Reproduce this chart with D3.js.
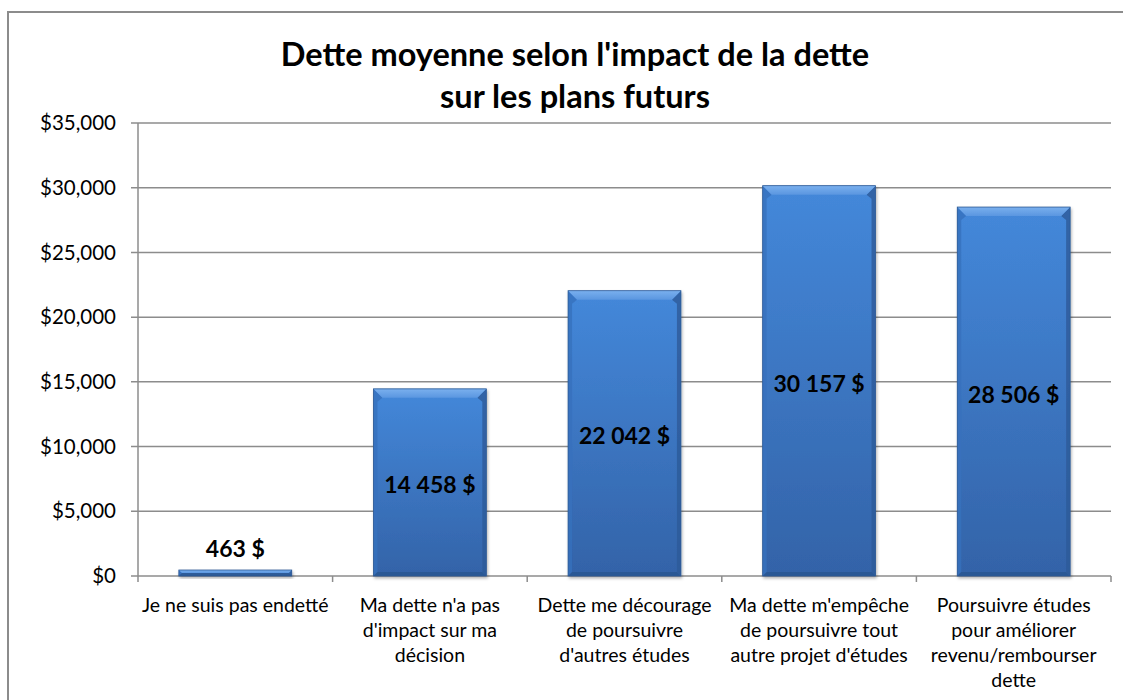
<!DOCTYPE html>
<html>
<head>
<meta charset="utf-8">
<script src="https://cdn.jsdelivr.net/npm/d3@7"></script>
<style>
  body { margin: 0; background: #fff; }
  svg text { font-family: Lato, "Open Sans", sans-serif; }
</style>
</head>
<body>
<div id="main"></div>
<script>
var categories = [
    ["Je ne suis pas endetté"],
    ["Ma dette n'a pas", "d'impact sur ma", "décision"],
    ["Dette me décourage", "de poursuivre", "d'autres études"],
    ["Ma dette m'empêche", "de poursuivre tout", "autre projet d'études"],
    ["Poursuivre études", "pour améliorer", "revenu/rembourser", "dette"]
];
var values = [463, 14458, 22042, 30157, 28506];
var valueLabels = ["463 $", "14 458 $", "22 042 $", "30 157 $", "28 506 $"];
var yTicks = [0, 5000, 10000, 15000, 20000, 25000, 30000, 35000];
var titleLines = ["Dette moyenne selon l'impact de la dette", "sur les plans futurs"];

var width = 1123, height = 700;
var plot = {left: 138, right: 1111, top: 123, bottom: 576};

var svg = d3.select('#main')
    .append('svg')
    .attr("width", width)
    .attr("height", height);

// chart frame
svg.append("rect")
    .attr("x", 8).attr("y", 12)
    .attr("width", 1130).attr("height", 720)
    .attr("fill", "#fff")
    .attr("stroke", "#8c8c8c")
    .attr("stroke-width", 2);

var defs = svg.append("defs");
var grad = defs.append("linearGradient").attr("id", "barGrad")
    .attr("x1", "0").attr("x2", "0").attr("y1", "0").attr("y2", "1");
grad.append("stop").attr("offset", "0%").attr("stop-color", "#4488da");
grad.append("stop").attr("offset", "100%").attr("stop-color", "#3363a8");

var topGrad = defs.append("linearGradient").attr("id", "topGrad")
    .attr("x1", "0").attr("x2", "0").attr("y1", "0").attr("y2", "1");
topGrad.append("stop").attr("offset", "0%").attr("stop-color", "#7ab0ee");
topGrad.append("stop").attr("offset", "100%").attr("stop-color", "#5a96e0");

var shadow = defs.append("filter").attr("id", "shadow")
    .attr("x", "-10%").attr("y", "-10%").attr("width", "130%").attr("height", "130%");
shadow.append("feDropShadow").attr("dx", 1).attr("dy", 2).attr("stdDeviation", 1.5)
    .attr("flood-color", "#000").attr("flood-opacity", 0.3);

var x = d3.scaleBand()
    .domain(d3.range(categories.length))
    .range([plot.left, plot.right])
    .paddingInner(0.42)
    .paddingOuter(0.21);

var y = d3.scaleLinear()
    .domain([0, 35000])
    .range([plot.bottom, plot.top]);

// gridlines
svg.append("g")
    .selectAll("line")
    .data(yTicks)
    .enter().append("line")
    .attr("x1", plot.left - 7)
    .attr("x2", plot.right)
    .attr("y1", function(d) { return y(d); })
    .attr("y2", function(d) { return y(d); })
    .attr("stroke", "#8c8c8c")
    .attr("stroke-width", 1.5);

// y axis line
svg.append("line")
    .attr("x1", plot.left).attr("x2", plot.left)
    .attr("y1", plot.top).attr("y2", plot.bottom)
    .attr("stroke", "#8c8c8c").attr("stroke-width", 1.5);

// y tick labels
svg.append("g")
    .selectAll("text")
    .data(yTicks)
    .enter().append("text")
    .attr("x", plot.left - 22)
    .attr("y", function(d) { return y(d); })
    .attr("dy", "0.35em")
    .attr("text-anchor", "end")
    .attr("font-size", 20.5)
    .attr("fill", "#000")
    .text(function(d) { return "$" + d3.format(",")(d); });

// x category ticks
var boundaries = d3.range(categories.length + 1).map(function(i) {
    return plot.left + i * x.step();
});
svg.append("g")
    .selectAll("line")
    .data(boundaries)
    .enter().append("line")
    .attr("x1", function(d) { return d; })
    .attr("x2", function(d) { return d; })
    .attr("y1", plot.bottom)
    .attr("y2", plot.bottom + 6)
    .attr("stroke", "#8c8c8c").attr("stroke-width", 1.5);

// bars
var bars = svg.append("g")
    .selectAll("g")
    .data(values)
    .enter().append("g")
    .attr("filter", "url(#shadow)");

bars.append("rect")
    .attr("x", function(d, i) { return x(i); })
    .attr("y", function(d) { return y(d); })
    .attr("width", x.bandwidth())
    .attr("height", function(d) { return plot.bottom - y(d); })
    .attr("fill", "url(#barGrad)");

// bevel edges
function bevel(d, i, side) {
    var x0 = x(i), x1 = x(i) + x.bandwidth(), y0 = y(d), y1 = plot.bottom;
    var h = y1 - y0;
    var b = Math.min(9, h / 2), s = Math.min(4, h / 2);
    if (side === "top") return [[x0, y0], [x1, y0], [x1 - b, y0 + b], [x0 + b, y0 + b]];
    if (side === "left") return [[x0, y0], [x0 + b, y0 + b], [x0 + s, y0 + b + 4], [x0 + s, y1 - s], [x0, y1]];
    if (side === "right") return [[x1, y0], [x1 - b, y0 + b], [x1 - s, y0 + b + 4], [x1 - s, y1 - s], [x1, y1]];
    return [[x0, y1], [x0 + s, y1 - s], [x1 - s, y1 - s], [x1, y1]];
}
var bevelFill = {top: "url(#topGrad)", left: "#3770bd", right: "#2d5a98", bottom: "#2b5690"};
["left", "right", "bottom", "top"].forEach(function(side) {
    bars.append("polygon")
        .attr("points", function(d, i) { return bevel(d, i, side).join(" "); })
        .attr("fill", bevelFill[side])
        .attr("opacity", side === "top" ? 1 : 0.8);
});
bars.append("rect")
    .attr("x", function(d, i) { return x(i); })
    .attr("y", function(d) { return y(d); })
    .attr("width", x.bandwidth())
    .attr("height", function(d) { return plot.bottom - y(d); })
    .attr("fill", "none")
    .attr("stroke", "#2e5a95")
    .attr("stroke-width", 0.8);

// value labels
svg.append("g")
    .selectAll("text")
    .data(values)
    .enter().append("text")
    .attr("x", function(d, i) { return x(i) + x.bandwidth() / 2; })
    .attr("y", function(d) {
        var h = plot.bottom - y(d);
        return h < 40 ? y(d) - 21 : y(d) + h / 2 + 3;
    })
    .attr("dy", "0.35em")
    .attr("text-anchor", "middle")
    .attr("font-size", 23)
    .attr("font-weight", "bold")
    .attr("fill", "#000")
    .text(function(d, i) { return valueLabels[i]; });

// category labels
var catLabels = svg.append("g")
    .selectAll("text")
    .data(categories)
    .enter().append("text")
    .attr("text-anchor", "middle")
    .attr("font-size", 19.5)
    .attr("fill", "#000");
catLabels.selectAll("tspan")
    .data(function(d, i) { return d.map(function(line) { return {line: line, i: i}; }); })
    .enter().append("tspan")
    .attr("x", function(d) { return x(d.i) + x.bandwidth() / 2; })
    .attr("y", function(d, j) { return 612 + j * 25; })
    .text(function(d) { return d.line; });

// title
svg.append("g")
    .selectAll("text")
    .data(titleLines)
    .enter().append("text")
    .attr("x", 575)
    .attr("y", function(d, i) { return 66 + i * 42; })
    .attr("text-anchor", "middle")
    .attr("font-size", 32.5)
    .attr("font-weight", "bold")
    .attr("fill", "#000")
    .text(function(d) { return d; });
</script>
</body>
</html>
